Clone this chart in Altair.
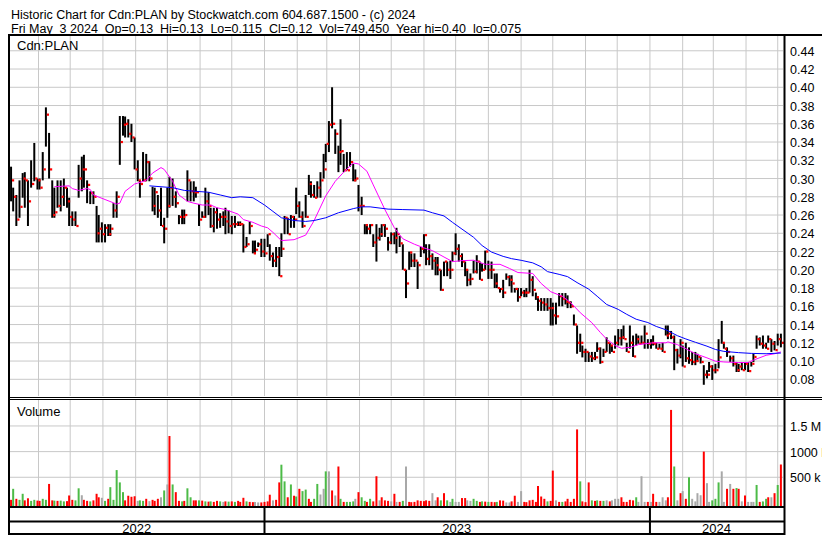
import altair as alt
import pandas as pd

# ---------------- data ----------------
high = [
    .313, .290, .282, .298, .306, .307, .298, .320, .339, .300,
    .300, .329, .378, .350, .298, .290, .298, .298, .300, .290,
    .279, .264, .264, .315, .324, .326, .298, .286, .286, .270,
    .260, .252, .250, .250, .250, .273, .286, .3685, .3685, .368,
    .365, .360, .345, .320, .298, .329, .327, .319, .291, .290,
    .282, .290, .257, .290, .302, .300, .286, .260, .266, .266,
    .309, .297, .297, .291, .272, .264, .290, .285, .268, .268,
    .268, .262, .264, .268, .265, .259, .259, .253, .253, .250,
    .236, .253, .232, .232, .230, .234, .234, .239, .228, .219,
    .225, .225, .240, .259, .257, .260, .259, .290, .275, .264,
    .282, .304, .297, .293, .297, .307, .327, .338, .363, .400,
    .354, .336, .365, .327, .329, .329, .316, .310, .293, .280,
    .250, .250, .250, .239, .250, .246, .250, .250, .236, .241,
    .241, .246, .237, .228, .200, .220, .218, .218, .209, .225,
    .239, .228, .228, .218, .214, .214, .200, .209, .209, .210,
    .220, .240, .228, .218, .209, .200, .196, .210, .216, .209,
    .207, .221, .210, .209, .196, .196, .180, .189, .196, .194,
    .194, .180, .180, .180, .178, .180, .200, .193, .175, .169,
    .169, .169, .169, .169, .164, .164, .1745, .1745, .1745, .172,
    .1655, .151, .139, .130, .117, .1135, .110, .110, .110, .1206,
    .115, .1135, .126, .120, .117, .128, .135, .135, .139, .120,
    .139, .128, .130, .128, .128, .139, .124, .124, .128, .120,
    .119, .120, .139, .139, .133, .128, .1135, .124, .117, .120,
    .115, .110, .110, .108, .1045, .0955, .090, .099, .0955, .097,
    .124, .144, .120, .115, .106, .106, .099, .097, .099, .099,
    .099, .099, .108, .128, .126, .128, .120, .128, .124, .122, .130, .130,
]
low = [
    .275, .264, .248, .257, .279, .268, .248, .290, .297, .288,
    .288, .298, .335, .300, .257, .257, .268, .264, .270, .268,
    .248, .248, .248, .279, .286, .290, .273, .272, .272, .230,
    .230, .230, .230, .237, .237, .257, .257, .315, .347, .345,
    .345, .340, .310, .297, .279, .297, .297, .297, .264, .260,
    .257, .248, .229, .257, .268, .270, .268, .250, .250, .250,
    .275, .275, .275, .279, .248, .257, .257, .260, .246, .241,
    .245, .246, .248, .239, .240, .239, .246, .248, .248, .219,
    .225, .239, .218, .218, .225, .214, .214, .225, .210, .203,
    .203, .193, .214, .239, .239, .246, .246, .261, .257, .246,
    .257, .282, .279, .279, .279, .279, .300, .318, .329, .355,
    .327, .307, .315, .307, .309, .313, .297, .297, .264, .260,
    .239, .239, .239, .225, .209, .232, .236, .236, .221, .228,
    .228, .218, .225, .200, .169, .200, .203, .203, .179, .214,
    .218, .205, .205, .200, .194, .194, .177, .193, .193, .190,
    .209, .216, .209, .203, .193, .182, .183, .196, .196, .189,
    .198, .200, .190, .190, .180, .180, .175, .169, .189, .182,
    .175, .175, .165, .171, .170, .170, .175, .171, .167, .155,
    .155, .155, .155, .139, .139, .140, .160, .160, .162, .158,
    .158, .139, .108, .110, .104, .099, .099, .099, .101, .110,
    .097, .1045, .110, .108, .110, .1135, .117, .117, .124, .110,
    .1135, .1045, .117, .119, .119, .1135, .1135, .1135, .117, .1135,
    .1135, .110, .128, .124, .124, .090, .0973, .103, .094, .099,
    .097, .0955, .0955, .099, .0973, .074, .081, .088, .0793, .0865,
    .092, .119, .1135, .1045, .099, .094, .088, .088, .090, .090,
    .088, .094, .099, .1135, .117, .1135, .1135, .120, .110, .1117, .117, .115,
]
close = [
    .298, .280, .255, .269, .300, .298, .275, .294, .300, .298,
    .290, .310, .370, .310, .260, .263, .270, .280, .290, .275,
    .258, .255, .248, .300, .310, .310, .293, .284, .280, .240,
    .245, .239, .246, .239, .245, .265, .280, .340, .359, .360,
    .349, .345, .310, .298, .294, .298, .318, .300, .270, .285,
    .265, .248, .245, .270, .290, .280, .273, .258, .258, .260,
    .298, .286, .285, .285, .255, .258, .275, .270, .248, .263,
    .255, .258, .258, .253, .248, .250, .250, .250, .250, .225,
    .228, .248, .218, .222, .228, .220, .218, .239, .215, .210,
    .214, .193, .223, .257, .239, .258, .255, .270, .258, .248,
    .258, .294, .282, .279, .290, .298, .310, .338, .359, .360,
    .349, .329, .330, .309, .309, .318, .298, .300, .270, .270,
    .249, .245, .249, .230, .235, .239, .249, .245, .230, .239,
    .235, .239, .229, .200, .185, .219, .210, .210, .205, .223,
    .238, .212, .215, .210, .205, .200, .178, .209, .200, .200,
    .218, .223, .215, .209, .200, .189, .190, .198, .209, .189,
    .200, .220, .200, .200, .185, .180, .179, .175, .192, .189,
    .185, .179, .170, .175, .175, .175, .189, .178, .170, .166,
    .164, .162, .158, .158, .150, .149, .171, .168, .165, .164,
    .160, .140, .120, .120, .110, .110, .105, .103, .104, .1135,
    .099, .110, .120, .117, .110, .120, .125, .126, .124, .110,
    .120, .105, .124, .119, .120, .130, .119, .120, .119, .1135,
    .1135, .110, .128, .130, .126, .112, .106, .120, .094, .103,
    .101, .099, .100, .1045, .099, .085, .085, .094, .090, .090,
    .104, .120, .1135, .110, .103, .097, .090, .094, .090, .097,
    .089, .097, .1045, .124, .119, .117, .1135, .124, .119, .112, .124, .120,
]
# daily volume, thousands of shares
volume_k = [
    60, 275, 80, 60, 178, 50, 90, 40, 60, 45,
    40, 80, 60, 370, 50, 45, 40, 45, 30, 35,
    145, 60, 50, 285, 150, 60, 40, 30, 50, 178,
    110, 100, 40, 80, 307, 60, 640, 400, 210, 50,
    140, 120, 130, 40, 50, 40, 80, 35, 60, 40,
    80, 110, 243, 360, 1304, 360, 210, 40, 30, 40,
    285, 110, 50, 50, 50, 45, 30, 25, 30, 20,
    40, 30, 20, 30, 25, 30, 20, 40, 20, 100,
    30, 20, 15, 20, 10, 10, 20, 30, 160, 50,
    60, 400, 745, 420, 110, 360, 140, 125, 275, 230,
    260, 80, 20, 80, 370, 165, 275, 615, 615, 243,
    145, 710, 80, 20, 20, 20, 30, 80, 210, 110,
    40, 20, 80, 30, 520, 50, 110, 50, 40, 30,
    178, 20, 20, 40, 710, 20, 15, 20, 50, 40,
    35, 50, 40, 190, 50, 110, 50, 190, 50, 20,
    80, 20, 20, 95, 95, 50, 40, 80, 40, 20,
    30, 25, 20, 20, 15, 20, 50, 45, 10, 10,
    30, 140, 20, 230, 20, 15, 50, 60, 20, 330,
    125, 80, 30, 40, 630, 50, 20, 20, 30, 80,
    20, 80, 1433, 420, 30, 15, 400, 50, 40, 50,
    40, 40, 50, 30, 50, 80, 80, 110, 20, 20,
    60, 50, 110, 20, 520, 20, 20, 20, 178, 20,
    20, 110, 50, 110, 1813, 710, 50, 190, 230, 80,
    500, 80, 30, 190, 150, 1000, 385, 20, 50, 80,
    400, 615, 20, 275, 370, 275, 290, 275, 30, 145,
    20, 20, 20, 350, 20, 30, 80, 110, 110, 190, 350, 749,
]
# r = down day, g = up day, n = unchanged
volume_dir = (
    "rgrggrrggr" "rggrrgrggr" "rrggnrrgrr" "rngrgggggr" "rrrnggrnrr"
    "rngnrgrrgr" "ggrrgrgrgr" "rgnrgrgrrr" "grrnnrrrrn" "rrggrgrgrg"
    "grrggnngnr" "nrgrgggnrg" "grgrrnrrrn" "rnrgnrrrrr" "rrrnnrgrgn"
    "gnnrrnnggr" "grgrrgrrnn" "rrnnrrrrrr" "rrgrrnrgrr" "rrrgrrrgrg"
    "rgnrnnnrrr" "rrgnnnrnrr" "nnnrrgnrnr" "gnnnnrnngg" "gnnrnrgrnr"
    "nnngrggrnrgr"
)
# short (magenta) and long (blue) moving averages, at bar positions
ma_short_at = [15, 20, 21, 23, 26, 27, 28, 32, 36, 37, 39, 42, 43, 46, 48, 51, 52, 55, 57, 60,
               62, 65, 68, 70, 73, 77, 79, 82, 85, 87, 89, 92, 96, 100, 103, 107, 110, 113, 116, 118,
               121, 123, 127, 130, 133, 137, 140, 143, 147, 150, 153, 157, 161, 166, 169, 172, 177, 180, 183, 187,
               190, 193, 197, 200, 202, 205, 207, 210, 213, 218, 222, 223, 226, 229, 232, 236, 239, 242, 247, 250,
               252, 256, 259, 261]
ma_short = [.291, .292, .289, .287, .289, .288, .282, .277, .272, .273, .286, .294, .295, .298, .306, .312, .310, .297, .282, .275,
            .273, .271, .271, .268, .266, .261, .255, .252, .248, .246, .241, .232, .233, .238, .254, .281, .297, .307, .317, .316,
            .308, .293, .266, .246, .234, .228, .224, .221, .214, .209, .210, .2105, .206, .206, .2015, .197, .196, .185, .176, .171,
            .164, .153, .142, .1314, .124, .117, .114, .115, .118, .120, .120, .121, .118, .1135, .108, .1035, .0998, .099, .0984, .0984,
            .101, .1063, .108, .110]
ma_long_at = [47, 51, 55, 59, 63, 67, 71, 75, 78, 82, 86, 89, 92, 96, 100, 103, 107, 111, 116, 119,
              122, 128, 133, 140, 143, 147, 150, 153, 157, 160, 163, 167, 170, 173, 177, 180, 182, 186, 189, 192,
              196, 199, 202, 206, 209, 212, 216, 219, 222, 226, 229, 232, 236, 239, 242, 247, 251, 256, 261]
ma_long = [.292, .291, .290, .287, .286, .285, .282, .279, .280, .279, .271, .264, .257, .254, .253, .254, .257, .2625, .267, .269,
           .269, .2665, .266, .2654, .2625, .259, .252, .2446, .2356, .2266, .2194, .2147, .2122, .2104, .2076, .2033, .198, .195, .1925, .186,
           .1788, .171, .162, .1566, .1512, .1458, .1422, .1379, .1343, .1278, .1242, .1206, .1163, .1127, .1106, .1092, .1084, .108, .1088]

price_ticks = [0.08, 0.10, 0.12, 0.14, 0.16, 0.18, 0.20, 0.22, 0.24, 0.26, 0.28, 0.30,
               0.32, 0.34, 0.36, 0.38, 0.40, 0.42, 0.44]
volume_ticks = [500, 1000, 1500]
volume_tick_labels = ["500 k", "1000 k", "1.5 M"]
year_labels = ["2022", "2023", "2024"]

title_line1 = "Historic Chart for Cdn:PLAN by Stockwatch.com 604.687.1500 - (c) 2024"
title_line2 = ("Fri May\u00a0 3 2024\u00a0 Op=0.13\u00a0 Hi=0.13\u00a0 Lo=0.115\u00a0 Cl=0.12\u00a0 "
               "Vol=749,450\u00a0 Year hi=0.40\u00a0 lo=0.075")
symbol_label = "Cdn:PLAN"
volume_label = "Volume"

# ---------------- tables ----------------
START, END = "2022-05-05", "2024-05-06"
dates = pd.date_range("2022-05-06", "2024-05-04", periods=len(high)).strftime("%Y-%m-%d")
bars = pd.DataFrame({"date": dates, "high": high, "low": low, "close": close,
                     "vol": volume_k, "dir": list(volume_dir)})
short_df = pd.DataFrame({"date": dates[ma_short_at], "ma": ma_short})
long_df = pd.DataFrame({"date": dates[ma_long_at], "ma": ma_long})
months_df = pd.DataFrame({"date": pd.date_range("2022-06-01", "2024-05-01", freq="MS").strftime("%Y-%m-%d")})
yearsep_df = pd.DataFrame({"date": ["2023-01-01", "2024-01-01"]})
s, e = pd.Timestamp(START), pd.Timestamp(END)
mids = []
for y in year_labels:
    a = max(s, pd.Timestamp(f"{y}-01-01"))
    b = min(e, pd.Timestamp(f"{int(y) + 1}-01-01"))
    mids.append((a + (b - a) / 2).strftime("%Y-%m-%d"))
years_df = pd.DataFrame({"date": mids, "label": year_labels})
ptick_df = pd.DataFrame({"p": price_ticks})
vtick_df = pd.DataFrame({"v": volume_ticks, "label": volume_tick_labels})
one = pd.DataFrame({"a": [0]})

# ---------------- scales & style ----------------
FONT = "Liberation Sans"
GRID = "#c8c8c8"
VOL_FLOOR = -60
PLOT_R = 775          # right end of the plotting area (px inside the view)
BORDER_R = 776.5      # right frame line
LABEL_X = 782         # right-hand value labels
X = alt.Scale(domain=[alt.DateTime(year=2022, month=5, date=5), alt.DateTime(year=2024, month=5, date=6)],
              range=[2, PLOT_R])
PY = alt.Scale(domain=[0.0617, 0.4562], range=[388, 28], zero=False, nice=False)
VY = alt.Scale(domain=[VOL_FLOOR, 2006], range=[498, 392], zero=False, nice=False)


def xenc():
    return alt.X("date:T", scale=X, axis=None)


def hline(y, x1, x2, w=2):
    return alt.Chart(one).mark_rule(color="black", strokeWidth=w).encode(
        x=alt.value(x1), x2=alt.value(x2), y=alt.value(y))


def vline(x, y1, y2, w=2):
    return alt.Chart(one).mark_rule(color="black", strokeWidth=w).encode(
        x=alt.value(x), y=alt.value(y1), y2=alt.value(y2))


def label(txt, x, y, size=13):
    return alt.Chart(one).mark_text(text=txt, align="left", baseline="middle", font=FONT,
                                    fontSize=size, color="black").encode(x=alt.value(x), y=alt.value(y))


grid_p = alt.Chart(months_df).mark_rule(color=GRID, strokeWidth=1).encode(
    x=xenc(), y=alt.value(28), y2=alt.value(388))
grid_v = alt.Chart(months_df).mark_rule(color=GRID, strokeWidth=1).encode(
    x=xenc(), y=alt.value(392), y2=alt.value(498))
hgrid_p = alt.Chart(ptick_df).mark_rule(color=GRID, strokeWidth=1).encode(
    y=alt.Y("p:Q", scale=PY, axis=None), x=alt.value(2), x2=alt.value(PLOT_R))
hgrid_v = alt.Chart(vtick_df).mark_rule(color=GRID, strokeWidth=1).encode(
    y=alt.Y("v:Q", scale=VY, axis=None), x=alt.value(2), x2=alt.value(PLOT_R))
plabels = alt.Chart(ptick_df).mark_text(align="left", baseline="middle", font=FONT, fontSize=12.5,
                                        color="black", dy=1).encode(
    y=alt.Y("p:Q", scale=PY, axis=None), x=alt.value(LABEL_X), text=alt.Text("p:Q", format=".2f"))
vlabels = alt.Chart(vtick_df).mark_text(align="left", baseline="middle", font=FONT, fontSize=12.5,
                                        color="black", dy=1).encode(
    y=alt.Y("v:Q", scale=VY, axis=None), x=alt.value(LABEL_X), text="label:N")

vol_bars = alt.Chart(bars).mark_rule(strokeWidth=2).encode(
    x=xenc(), y=alt.Y("vol:Q", scale=VY, axis=None), y2=alt.datum(VOL_FLOOR),
    color=alt.Color("dir:N", scale=alt.Scale(domain=["r", "g", "n"],
                                             range=["#ff0000", "#4cbb47", "#a8a8a8"]), legend=None))
ohlc = alt.Chart(bars).mark_rule(color="black", strokeWidth=2).encode(
    x=xenc(), y=alt.Y("low:Q", scale=PY, axis=None), y2="high:Q")
closes = alt.Chart(bars).mark_square(color="#ff0000", size=5, opacity=1, xOffset=2).encode(
    x=xenc(), y=alt.Y("close:Q", scale=PY, axis=None))
ma_s = alt.Chart(short_df).mark_line(color="#ff00ff", strokeWidth=1).encode(
    x=xenc(), y=alt.Y("ma:Q", scale=PY, axis=None))
ma_l = alt.Chart(long_df).mark_line(color="#0000ff", strokeWidth=1).encode(
    x=xenc(), y=alt.Y("ma:Q", scale=PY, axis=None))

year_sep = alt.Chart(yearsep_df).mark_rule(color="black", strokeWidth=2).encode(
    x=xenc(), y=alt.value(499), y2=alt.value(527))
year_txt = alt.Chart(years_df).mark_text(align="center", baseline="middle", font=FONT,
                                         fontSize=13, color="black").encode(
    x=xenc(), y=alt.value(520.5), text="label:N")

layers = [
    grid_p, grid_v, hgrid_p, hgrid_v,
    vol_bars, ohlc, closes, ma_s, ma_l,
    plabels, vlabels,
    label(title_line1, 3, 6.5, 12.5), label(title_line2, 3, 20.5, 12.5),
    label(symbol_label, 9, 38), label(volume_label, 9, 404),
    hline(27, 0, 814, 2), vline(1, 27, 527, 2), vline(BORDER_R, 27, 527, 2),
    hline(389.5, 0, 814, 1), hline(391.5, 0, 814, 1),
    hline(499, 0, BORDER_R, 2), hline(513.5, 0, BORDER_R, 2), hline(526, 0, BORDER_R, 2),
    year_sep, year_txt,
]

chart = alt.layer(*layers).resolve_scale(y="independent").properties(
    width=780, height=527,
    autosize=alt.AutoSizeParams(type="none"),
    padding={"left": 0, "top": 0, "right": 34, "bottom": 0},
).configure_view(stroke=None)

chart.save("out.html", embed_options={"renderer": "svg", "actions": False})
